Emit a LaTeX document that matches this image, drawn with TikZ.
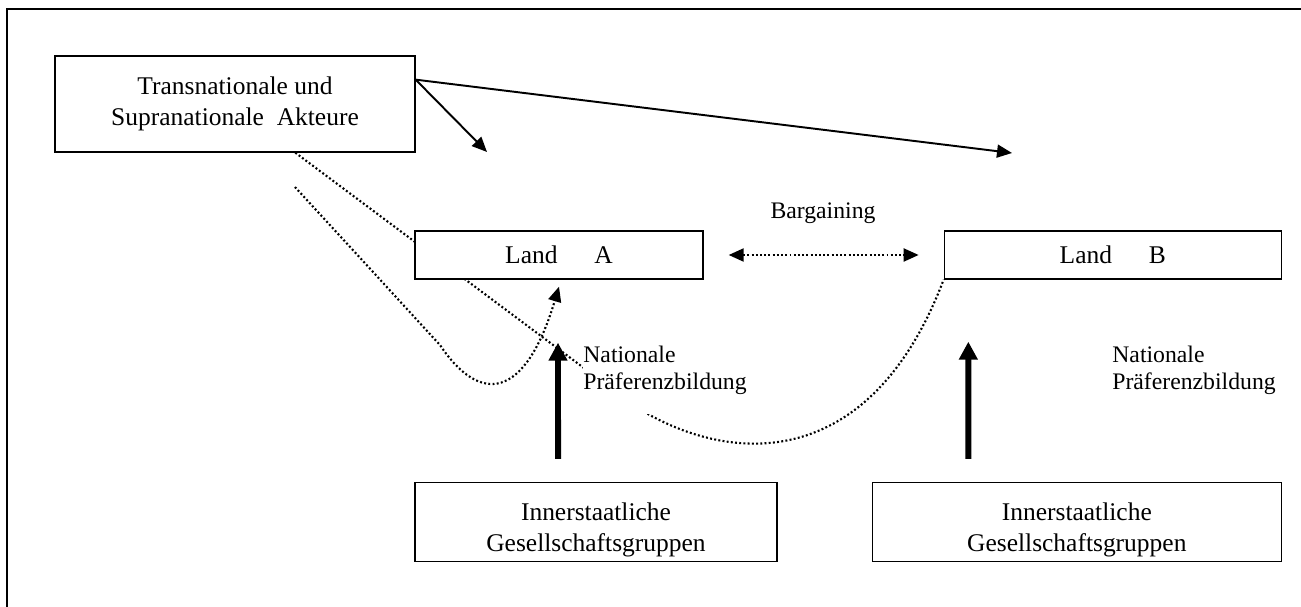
\documentclass[tikz,border=0pt]{standalone}
\usepackage{fontspec}
\setmainfont{Liberation Serif}
\usetikzlibrary{arrows.meta,positioning,calc,backgrounds}
\newcommand{\bigtxt}{\fontsize{14.5}{18}\selectfont}
\newcommand{\smalltxt}{\fontsize{13.5}{15.5}\selectfont}

\begin{document}
\begin{tikzpicture}[x=0.02cm,y=-0.02cm,
  box/.style={draw,rectangle,line width=0.8pt,fill=white,align=center,font=\bigtxt,inner sep=0pt},
  note/.style={font=\smalltxt,align=left,inner xsep=0pt},
  thin arrow/.style={line width=1.1pt,-{Triangle[length=0.3cm,width=0.26cm]}},
  thick arrow/.style={line width=3.4pt,-{Triangle[length=0.36cm,width=0.36cm]}},
  dotline/.style={line width=1.2pt,dash pattern=on 1.1pt off 1.3pt}]
\useasboundingbox (0,0) rectangle (1301,607);
% frame
\draw[line width=1.3pt] (7,607) -- (7,9) -- (1301,9);

% actors and countries
\node[box,minimum width=7.2cm,minimum height=1.92cm] (tsa) at (235,104) {Transnationale und\\Supranationale\ \ Akteure};
\node[box,minimum width=5.76cm,minimum height=0.96cm] (landA) at (559,255) {Land\hspace{21pt}A};
\node[box,minimum width=6.74cm,minimum height=0.96cm,right=4.8cm of landA] (landB) {Land\hspace{21pt}B};
\node[box,minimum width=7.24cm,minimum height=1.58cm] (grpA) at (596,522) {\rule{0pt}{19pt}Innerstaatliche\\Gesellschaftsgruppen};
\node[box,minimum width=8.18cm,minimum height=1.58cm,right=1.88cm of grpA] (grpB) {\rule{0pt}{19pt}Innerstaatliche\\Gesellschaftsgruppen};

\node[font=\smalltxt] (barg) at (823,213) {Bargaining};
\node[note,fill=white,minimum height=1.76cm,anchor=west] (natA) at (583,370) {Nationale\\Präferenzbildung};
\node[note,anchor=west] (natB) at (1112,370) {Nationale\\Präferenzbildung};

\coordinate (loopstart) at (295,187);
\coordinate (aimA) at (487,152);
\coordinate (aimB) at (1012,153);

% dotted influence lines
\begin{scope}[on background layer]
\draw[dotline] ($(tsa.south west)!0.667!(tsa.south east)$) -- (600,380) .. controls (690,460) and (860,500) .. (landB.south west);
\draw[dotline,-{Triangle[length=0.3cm,width=0.26cm]}] (loopstart) -- (440,345) .. controls (480,405) and (525,400) .. ([yshift=-0.14cm]landA.south);
\end{scope}
\draw[dotline,{Triangle[length=0.3cm,width=0.26cm]}-{Triangle[length=0.3cm,width=0.26cm]}] ([xshift=0.5cm]landA.east) -- ([xshift=-0.5cm]landB.west);

% arrows
\draw[thin arrow] ($(tsa.north east)!0.25!(tsa.south east)$) -- (aimA);
\draw[thin arrow] ($(tsa.north east)!0.25!(tsa.south east)$) -- (aimB);
\draw[thick arrow] ([xshift=-0.76cm,yshift=0.46cm]grpA.north) -- ([xshift=-0.02cm,yshift=-1.26cm]landA.south);
\draw[thick arrow] ([xshift=-2.17cm,yshift=0.46cm]grpB.north) -- ([xshift=-2.89cm,yshift=-1.24cm]landB.south);
\end{tikzpicture}
\end{document}
